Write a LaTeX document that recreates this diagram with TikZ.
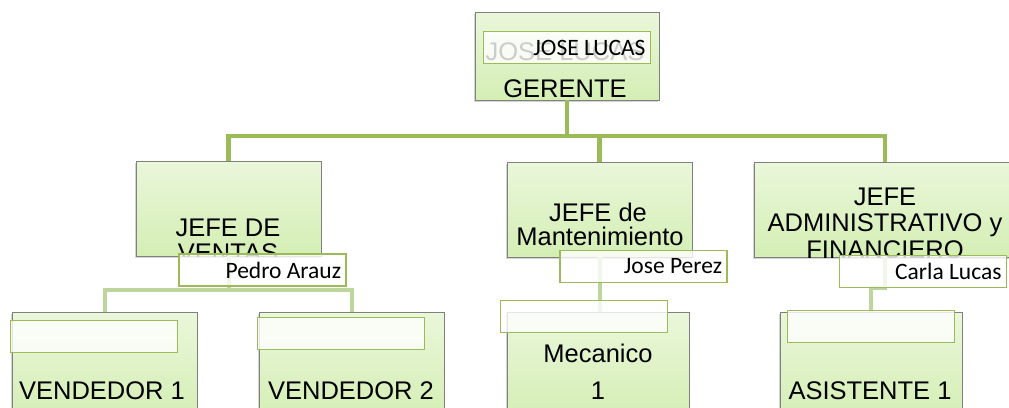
\documentclass[tikz,border=0pt]{standalone}
\usepackage{fontspec}
\usepackage{tikz}
\setmainfont{Liberation Sans}
\newfontfamily\calibri{Carlito}
\usetikzlibrary{shadows}
\definecolor{verde}{RGB}{155,187,89}
\definecolor{verdeclaro}{RGB}{188,214,158}
\definecolor{boxtop}{RGB}{234,247,218}
\definecolor{boxbot}{RGB}{212,238,180}
\definecolor{borde}{RGB}{128,128,128}

\begin{document}
\begin{tikzpicture}[x=1pt, y=-1pt,
  cargo/.style={draw=borde, line width=0.8pt, top color=boxtop, bottom color=boxbot,
    inner sep=0pt, drop shadow={shadow xshift=-1pt, shadow yshift=-2pt, opacity=0.35}},
  titulo/.style={anchor=base, inner sep=0pt, font=\fontsize{25.5}{30}\selectfont},
  nombre/.style={draw=verde, line width=1.8pt, fill=white, fill opacity=0.8, text opacity=1,
    minimum width=167pt, minimum height=32pt, inner xsep=5pt, inner ysep=0pt,
    text width=157pt, align=flush right, font=\calibri\fontsize{23.5}{28}\selectfont},
  conector/.style={draw=verde, line width=4.5pt},
  conector2/.style={draw=verdeclaro, line width=4pt}]

\useasboundingbox (0,0) rectangle (1009,407);

% cajas
\node[cargo, minimum width=184pt, minimum height=88pt] (gerente) at (567,56) {};
\node[cargo, minimum width=185pt, minimum height=95pt] (ventas) at (228.5,208.5) {};
\node[cargo, minimum width=185pt, minimum height=95pt] (mant) at (599.5,209.5) {};
\node[cargo, minimum width=262pt, minimum height=95pt] (admin) at (885,209.5) {};
\node[cargo, minimum width=185pt, minimum height=108pt] (v1) at (104.5,366) {};
\node[cargo, minimum width=185pt, minimum height=108pt] (v2) at (351.5,366) {};
\node[cargo, minimum width=182pt, minimum height=108pt] (mec) at (598,366) {};
\node[cargo, minimum width=182pt, minimum height=108pt] (asis) at (871,366) {};

% textos
\node[titulo] (fantasma) at (565,60) {JOSE LUCAS};
\node[titulo] (tGerente) at (565,97) {GERENTE};
\begin{scope}
  \clip (ventas.north west) rectangle (ventas.south east);
  \node[titulo] (tVentas1) at (228,236) {JEFE DE};
  \node[titulo] (tVentas2) at (228,261) {VENTAS};
\end{scope}
\node[titulo] (tMant1) at (598,221) {JEFE de};
\node[titulo] (tMant2) at (600,245) {Mantenimiento};
\begin{scope}
  \clip (admin.north west) rectangle (admin.south east);
  \node[titulo] (tAdmin1) at (885,205) {JEFE};
  \node[titulo] (tAdmin2) at (885,231) {ADMINISTRATIVO y};
  \node[titulo] (tAdmin3) at (885,258) {FINANCIERO};
\end{scope}
\node[titulo] (tV1) at (102,399) {VENDEDOR 1};
\node[titulo] (tV2) at (351,399) {VENDEDOR 2};
\node[titulo] (tMec1) at (598,362) {Mecanico};
\node[titulo] (tMec2) at (598,399) {1};
\node[titulo] (tAsis) at (870,399) {ASISTENTE 1};

% conectores
\coordinate (bus1) at (567,136);
\coordinate (bus2) at (228.5,290);
\coordinate (bus3) at (885,288);
\draw[conector] (gerente.south) -- (bus1);
\draw[conector] (ventas.north) |- (bus1) -| (admin.north);
\draw[conector] (mant.north) |- (bus1);
\draw[conector2] (ventas.south) -- (bus2);
\draw[conector2] (v1.north) |- (bus2) -| (v2.north);
\draw[conector2] (mant.south) -- (mant.south |- mec.north);
\draw[conector2] (admin.south) -- (bus3) -| (asis.north);

% etiquetas
\node[nombre] (nGerente) at (567,47.5) {JOSE LUCAS};
\node[nombre] (nVentas) at (262.5,270) {Pedro Arauz};
\node[nombre] (nMant) at (643.5,266.5) {Jose Perez};
\node[nombre] (nAdmin) at (923,271.5) {Carla Lucas};
\node[nombre] (bV1) at (94,336.5) {};
\node[nombre] (bV2) at (341,333.5) {};
\node[nombre] (bMec) at (584,316.5) {};
\node[nombre] (bAsis) at (871,326.5) {};

\end{tikzpicture}
\end{document}
